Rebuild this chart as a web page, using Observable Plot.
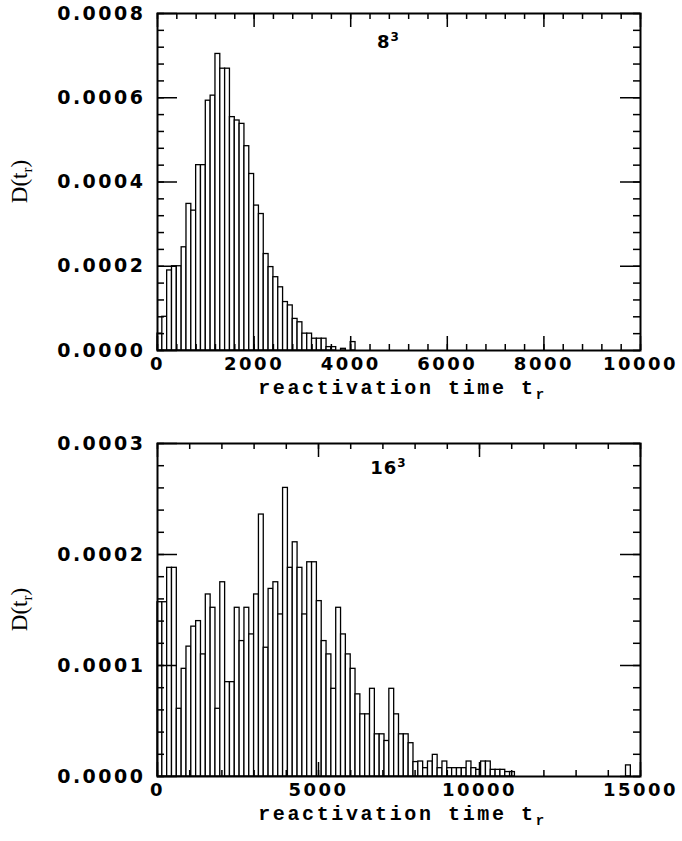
<!DOCTYPE html>
<html><head><meta charset="utf-8">
<script src="https://cdn.jsdelivr.net/npm/d3@7"></script>
<script src="https://cdn.jsdelivr.net/npm/@observablehq/plot@0.6"></script>
<style>
body{margin:0;background:#fff;}
#chart{width:682px;}
#chart svg{display:block;}
g[aria-label="x-axis tick label"] text, g[aria-label="y-axis tick label"] text{letter-spacing:2.5px;}
</style>
</head><body><div id="chart"></div>
<script>
// ---- data: top panel (8^3), bins of width 100 starting at 0
const topBinWidth = 100;
const topValues = [
  0.00004, 0.00008, 0.00019, 0.0002, 0.0002, 0.000245, 0.000348, 0.000332, 0.00044, 0.00044,
  0.000593, 0.000605, 0.000704, 0.000669, 0.000669, 0.000554, 0.000546, 0.000538, 0.000485, 0.000419,
  0.000344, 0.000324, 0.000229, 0.000198, 0.000174, 0.00015, 0.000115, 0.000107, 0.000075, 0.000067,
  0.00004, 0.00004, 0.000028, 0.000028, 0.000028, 0.000008, 0.000008, 0, 0.000004, 0,
  0.00002
];
// ---- data: bottom panel (16^3), bins of width 150 starting at 0
const bottomBinWidth = 150;
const bottomValues = [
  0.000157, 0.000157, 0.000188, 0.000188, 0.000061, 0.000097, 0.000117, 0.000135, 0.00014, 0.00011,
  0.000164, 0.000152, 0.000061, 0.000175, 0.000085, 0.000085, 0.000152, 0.000122, 0.000152, 0.000128,
  0.000164, 0.000236, 0.000116, 0.000169, 0.000175, 0.000146, 0.00026, 0.000188, 0.000211, 0.000188,
  0.000146, 0.000193, 0.000193, 0.000158, 0.000122, 0.00011, 0.000079, 0.000152, 0.000128, 0.00011,
  0.000097, 0.000074, 0.000056, 0.000056, 0.000079, 0.000038, 0.000038, 0.000032, 0.000079, 0.000056,
  0.000038, 0.000038, 0.00003, 0.000013, 0.0000135, 0.0000075, 0.0000135, 0.0000195, 0.0000075, 0.0000135,
  0.0000075, 0.0000075, 0.0000075, 0.0000075, 0.0000135, 0.0000075, 0.000006, 0.0000135, 0.0000135, 0.000006,
  0.000006, 0.000006, 0.000004, 0.000004, 0, 0, 0, 0, 0, 0,
  0, 0, 0, 0, 0, 0, 0, 0, 0, 0,
  0, 0, 0, 0, 0, 0, 0, 0.00001
];
// ---- ticks
const topXTicks = [0, 2000, 4000, 6000, 8000, 10000];
const topXMinorStep = 400;
const topYTicks = [0, 0.0002, 0.0004, 0.0006, 0.0008];
const topYMinorStep = 0.00004;
const bottomXTicks = [0, 5000, 10000, 15000];
const bottomXMinorStep = 1000;
const bottomYTicks = [0, 0.0001, 0.0002, 0.0003];
const bottomYMinorStep = 0.00002;
const panelLabels = ["8", "16"];
const xTitle = "reactivation time t";
const yTitle = "D(t";

const W = 682, ML = 157, MR = 42;
const tickFont = "'DejaVu Sans', sans-serif";

function panel({values, binWidth, xDomain, yDomain, xTicks, xMinorStep, yTicks, yMinorStep,
                height, marginTop, marginBottom, label, labelDy}) {
  const bins = values.map((v, i) => ({x1: i * binWidth, x2: (i + 1) * binWidth, y: v}));
  const plotH = height - marginTop - marginBottom;
  const plotW = W - ML - MR;
  const xMinor = d3.range(xDomain[0], xDomain[1] + 1e-9, xMinorStep);
  const yMinor = d3.range(0, Math.round(yDomain[1] / yMinorStep) + 1).map(i => i * yMinorStep);
  const svg = Plot.plot({
    width: W, height, marginLeft: ML, marginRight: MR, marginTop, marginBottom,
    x: {domain: xDomain},
    y: {domain: yDomain},
    style: {background: "white", color: "black"},
    marks: [
      Plot.rectY(bins, {x1: "x1", x2: "x2", y: "y", fill: "white", stroke: "black", strokeWidth: 1.3}),
      // minor and major ticks, inward on all four sides
      Plot.ruleX(xMinor, {insetTop: plotH - 6, strokeWidth: 1.5}),
      Plot.ruleX(xMinor, {insetBottom: plotH - 6, strokeWidth: 1.5}),
      Plot.ruleX(xTicks, {insetTop: plotH - 14, strokeWidth: 1.5}),
      Plot.ruleX(xTicks, {insetBottom: plotH - 14, strokeWidth: 1.5}),
      Plot.ruleY(yMinor, {insetRight: plotW - 7, strokeWidth: 1.5}),
      Plot.ruleY(yMinor, {insetLeft: plotW - 7, strokeWidth: 1.5}),
      Plot.ruleY(yTicks, {insetRight: plotW - 20, strokeWidth: 1.5}),
      Plot.ruleY(yTicks, {insetLeft: plotW - 20, strokeWidth: 1.5}),
      Plot.frame({stroke: "black", strokeWidth: 2}),
      Plot.axisX(xTicks, {tickSize: 0, tickPadding: 7, label: null, fontSize: 18, fontWeight: "bold",
        fontFamily: tickFont, tickFormat: d => String(d)}),
      Plot.axisY(yTicks, {tickSize: 0, tickPadding: 12, label: null, fontSize: 19, fontWeight: "bold",
        fontFamily: tickFont, tickFormat: d => d.toFixed(4)})
    ]
  });
  const s = d3.select(svg);
  const cx = ML + plotW / 2;
  // panel label with superscript
  const pl = s.append("text").attr("x", cx - 10).attr("y", marginTop + labelDy)
    .attr("text-anchor", "middle").attr("font-family", tickFont).attr("font-weight", "bold")
    .attr("font-size", 18).attr("letter-spacing", "1px");
  pl.append("tspan").text(label);
  pl.append("tspan").attr("dy", -7).attr("font-size", 12).text("3");
  // x title
  const xt = s.append("text").attr("x", cx + 4).attr("y", marginTop + plotH + 44)
    .attr("text-anchor", "middle").attr("font-family", "'Liberation Mono', monospace")
    .attr("font-weight", "bold").attr("font-size", 20).attr("letter-spacing", "2.6px");
  xt.append("tspan").text(xTitle);
  xt.append("tspan").attr("dy", 5).attr("font-size", 14).text("r");
  // y title
  const yt = s.append("text").attr("transform", `translate(27,${marginTop + plotH / 2}) rotate(-90)`)
    .attr("text-anchor", "middle").attr("font-family", "'Liberation Serif', serif").attr("font-size", 23);
  yt.append("tspan").text(yTitle);
  yt.append("tspan").attr("dy", 5).attr("font-size", 15).text("r");
  yt.append("tspan").attr("dy", -5).text(")");
  return svg;
}

const chart = document.getElementById("chart");
chart.append(panel({
  values: topValues, binWidth: topBinWidth, xDomain: [0, 10000], yDomain: [0, 0.0008],
  xTicks: topXTicks, xMinorStep: topXMinorStep, yTicks: topYTicks, yMinorStep: topYMinorStep,
  height: 405, marginTop: 13, marginBottom: 55, label: panelLabels[0], labelDy: 35
}));
chart.append(panel({
  values: bottomValues, binWidth: bottomBinWidth, xDomain: [0, 15000], yDomain: [0, 0.0003],
  xTicks: bottomXTicks, xMinorStep: bottomXMinorStep, yTicks: bottomYTicks, yMinorStep: bottomYMinorStep,
  height: 436, marginTop: 38, marginBottom: 65, label: panelLabels[1], labelDy: 31
}));
</script>
</body></html>
